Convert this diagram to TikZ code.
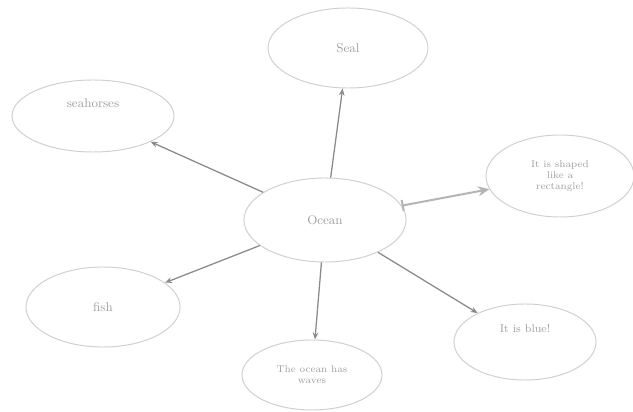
\documentclass[tikz,border=0pt]{standalone}
\usepackage{xcolor}
\usepackage{tikz}
\usetikzlibrary{shapes.geometric, arrows.meta}
\definecolor{bubblegray}{HTML}{D0D0D0}
\definecolor{arrowgray}{HTML}{8A8A8A}
\definecolor{paleink}{HTML}{B4B4B4}
\definecolor{inkgray}{HTML}{A0A0A0}

\begin{document}
\begin{tikzpicture}[x=0.025cm, y=-0.025cm,
    bubble/.style={ellipse, draw=bubblegray, line width=0.7pt, text=inkgray,
                   font=\small, align=center, inner sep=0pt},
    link/.style={draw=arrowgray, line width=0.9pt, -{Stealth[length=5pt, width=4pt]}}]
    \useasboundingbox[fill=white] (0,0) rectangle (633,412);

    % centre
    \node[bubble, minimum width=4.05cm, minimum height=2.1cm] (ocean) at (325,220) {Ocean};

    % ideas around it
    \node[bubble, minimum width=4cm, minimum height=2cm] (seal) at (348,48) {Seal};
    \node[bubble, minimum width=4.05cm, minimum height=1.8cm] (seahorses) at (93,116) {seahorses\\[8pt]};
    \node[bubble, minimum width=3.7cm, minimum height=2.05cm, font=\scriptsize] (shaped) at (560,176)
        {It is shaped\\like a\\rectangle!};
    \node[bubble, minimum width=3.85cm, minimum height=2cm] (fish) at (103,307) {fish};
    \node[bubble, minimum width=3.5cm, minimum height=1.75cm, font=\scriptsize] (waves) at (312,375)
        {The ocean has\\waves};
    \node[bubble, minimum width=3.55cm, minimum height=1.9cm, font=\footnotesize] (blue) at (525,342)
        {It is blue!\\[10pt]};

    % arrows
    \draw[link] (ocean) -- (seal);
    \draw[link] (ocean) -- (seahorses);
    \draw[link, draw=paleink, line width=1.4pt,
          {Bar[width=8pt]}-{Stealth[length=8pt, width=7pt]}] (ocean) -- (shaped);
    \draw[link] (ocean) -- (fish);
    \draw[link] (ocean) -- (waves);
    \draw[link] (ocean) -- (blue);
\end{tikzpicture}
\end{document}
